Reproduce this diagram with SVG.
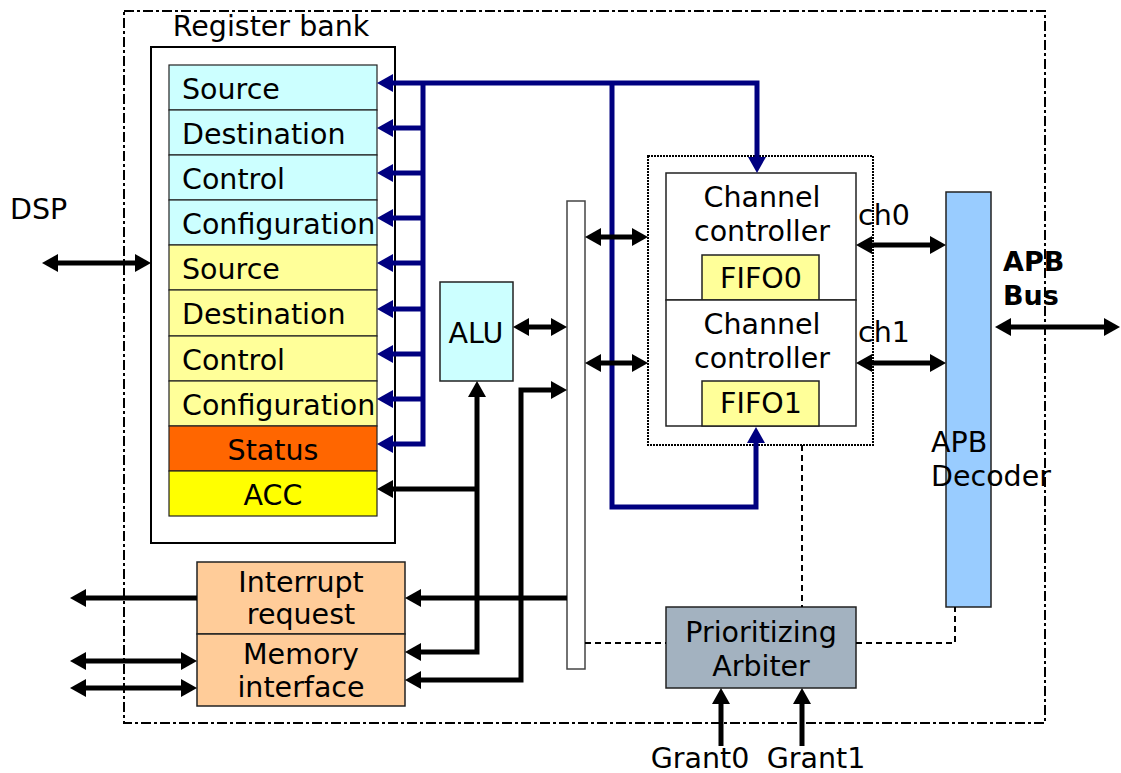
<svg xmlns="http://www.w3.org/2000/svg" width="1121" height="773" viewBox="0 0 1121 773">
  <style>
    text { font-family: "DejaVu Sans", Verdana, sans-serif; font-size: 28.5px; fill: #000; }
    .mid { text-anchor: middle; }
    .bold { font-weight: bold; font-size: 27px; }
    .cell { stroke: #222; stroke-width: 1.2; }
    .box { stroke: #222; stroke-width: 1.5; }
    .blk { fill: none; stroke: #000; stroke-width: 5; stroke-linejoin: miter; }
    .blue { fill: none; stroke: #000080; stroke-width: 5; stroke-linejoin: miter; }
    .dash { fill: none; stroke: #000; stroke-width: 2; stroke-dasharray: 6 4; }
  </style>
  <defs>
    <marker id="ah" markerUnits="userSpaceOnUse" markerWidth="16" markerHeight="18" refX="2" refY="9" orient="auto-start-reverse" viewBox="0 0 16 18">
      <path d="M0,0 L16,9 L0,18 z" fill="#000"/>
    </marker>
    <marker id="bh" markerUnits="userSpaceOnUse" markerWidth="16" markerHeight="18" refX="2" refY="9" orient="auto-start-reverse" viewBox="0 0 16 18">
      <path d="M0,0 L16,9 L0,18 z" fill="#000080"/>
    </marker>
  </defs>

  <!-- chip boundary -->
  <rect x="124" y="11" width="921" height="712" fill="none" stroke="#000" stroke-width="2" stroke-dasharray="10 3 3 3"/>

  <!-- register bank -->
  <g id="register-bank">
    <text x="271" y="36" class="mid">Register bank</text>
    <rect x="151" y="47" width="244" height="496" fill="#fff" stroke="#000" stroke-width="2"/>
    <g id="reg-src0"><rect x="169" y="65" width="208" height="45" fill="#CCFFFF" class="cell"/><text x="182" y="99">Source</text></g>
    <g id="reg-dst0"><rect x="169" y="110" width="208" height="45" fill="#CCFFFF" class="cell"/><text x="182" y="144">Destination</text></g>
    <g id="reg-ctl0"><rect x="169" y="155" width="208" height="45" fill="#CCFFFF" class="cell"/><text x="182" y="189">Control</text></g>
    <g id="reg-cfg0"><rect x="169" y="200" width="208" height="45" fill="#CCFFFF" class="cell"/><text x="182" y="234">Configuration</text></g>
    <g id="reg-src1"><rect x="169" y="245" width="208" height="45" fill="#FFFF99" class="cell"/><text x="182" y="279">Source</text></g>
    <g id="reg-dst1"><rect x="169" y="290" width="208" height="46" fill="#FFFF99" class="cell"/><text x="182" y="324">Destination</text></g>
    <g id="reg-ctl1"><rect x="169" y="336" width="208" height="45" fill="#FFFF99" class="cell"/><text x="182" y="370">Control</text></g>
    <g id="reg-cfg1"><rect x="169" y="381" width="208" height="45" fill="#FFFF99" class="cell"/><text x="182" y="415">Configuration</text></g>
    <g id="reg-status"><rect x="169" y="426" width="208" height="45" fill="#FF6600" class="cell"/><text x="273" y="460" class="mid">Status</text></g>
    <g id="reg-acc"><rect x="169" y="471" width="208" height="45" fill="#FFFF00" class="cell"/><text x="273" y="505" class="mid">ACC</text></g>
  </g>

  <g id="dsp"><text x="10" y="219">DSP</text></g>

  <g id="alu">
    <rect x="440" y="282" width="73" height="99" fill="#CCFFFF" class="box"/>
    <text x="476" y="343" class="mid">ALU</text>
  </g>

  <g id="internal-bus">
    <rect x="567" y="201" width="18" height="468" fill="#fff" stroke="#444" stroke-width="1.5"/>
  </g>

  <g id="channels">
    <rect x="648" y="156" width="225" height="289" fill="#fff" stroke="#000" stroke-width="2" stroke-dasharray="2 1"/>
    <g id="channel0">
      <rect x="666" y="173" width="190" height="127" fill="#fff" class="box"/>
      <text x="762" y="207" class="mid">Channel</text>
      <text x="762" y="241" class="mid">controller</text>
      <rect x="702" y="255" width="117" height="45" fill="#FFFF99" class="box"/>
      <text x="761" y="288" class="mid">FIFO0</text>
    </g>
    <g id="channel1">
      <rect x="666" y="300" width="190" height="126" fill="#fff" class="box"/>
      <text x="762" y="334" class="mid">Channel</text>
      <text x="762" y="368" class="mid">controller</text>
      <rect x="702" y="381" width="117" height="45" fill="#FFFF99" class="box"/>
      <text x="761" y="413" class="mid">FIFO1</text>
    </g>
  </g>

  <g id="apb-decoder">
    <rect x="946" y="192" width="45" height="415" fill="#99CCFF" class="box"/>
    <text x="931" y="452">APB</text>
    <text x="931" y="486">Decoder</text>
  </g>

  <g id="apb-bus">
    <text x="1003" y="271" class="bold">APB</text>
    <text x="1003" y="305" class="bold">Bus</text>
  </g>

  <g id="interrupt">
    <rect x="197" y="562" width="208" height="72" fill="#FFCC99" class="box"/>
    <text x="301" y="592" class="mid">Interrupt</text>
    <text x="301" y="624" class="mid">request</text>
  </g>
  <g id="memory">
    <rect x="197" y="634" width="208" height="72" fill="#FFCC99" class="box"/>
    <text x="301" y="664" class="mid">Memory</text>
    <text x="301" y="697" class="mid">interface</text>
  </g>

  <g id="arbiter">
    <rect x="666" y="607" width="190" height="81" fill="#A3B2C0" class="box"/>
    <text x="761" y="642" class="mid">Prioritizing</text>
    <text x="761" y="676" class="mid">Arbiter</text>
  </g>

  <g id="labels">
    <text x="858" y="225">ch0</text>
    <text x="858" y="342">ch1</text>
    <text x="700" y="768" class="mid">Grant0</text>
    <text x="816" y="768" class="mid">Grant1</text>
  </g>

  <g id="connectors">
    <!-- register write bus -->
    <path class="blue" d="M391,83 H757 V159" marker-start="url(#bh)" marker-end="url(#bh)"/>
    <path class="blue" d="M423,83 V444 H391" marker-end="url(#bh)"/>
    <path class="blue" d="M423,128 H391" marker-end="url(#bh)"/>
    <path class="blue" d="M423,173 H391" marker-end="url(#bh)"/>
    <path class="blue" d="M423,218 H391" marker-end="url(#bh)"/>
    <path class="blue" d="M423,263 H391" marker-end="url(#bh)"/>
    <path class="blue" d="M423,309 H391" marker-end="url(#bh)"/>
    <path class="blue" d="M423,354 H391" marker-end="url(#bh)"/>
    <path class="blue" d="M423,399 H391" marker-end="url(#bh)"/>
    <path class="blue" d="M612,83 V507 H756 V441" marker-end="url(#bh)"/>

    <!-- data paths -->
    <path class="blk" d="M56,263 H137" marker-start="url(#ah)" marker-end="url(#ah)"/>
    <path class="blk" d="M527,327 H553" marker-start="url(#ah)" marker-end="url(#ah)"/>
    <path class="blk" d="M599,237 H634" marker-start="url(#ah)" marker-end="url(#ah)"/>
    <path class="blk" d="M599,363 H634" marker-start="url(#ah)" marker-end="url(#ah)"/>
    <path class="blk" d="M870,245 H932" marker-start="url(#ah)" marker-end="url(#ah)"/>
    <path class="blk" d="M870,363 H932" marker-start="url(#ah)" marker-end="url(#ah)"/>
    <path class="blk" d="M1009,327 H1106" marker-start="url(#ah)" marker-end="url(#ah)"/>
    <path class="blk" d="M477,489 H391" marker-end="url(#ah)"/>
    <path class="blk" d="M477,395 V652 H419" marker-start="url(#ah)" marker-end="url(#ah)"/>
    <path class="blk" d="M553,390 H521 V680 H419" marker-start="url(#ah)" marker-end="url(#ah)"/>
    <path class="blk" d="M567,598 H419" marker-end="url(#ah)"/>
    <path class="blk" d="M197,598 H84" marker-end="url(#ah)"/>
    <path class="blk" d="M84,661 H183" marker-start="url(#ah)" marker-end="url(#ah)"/>
    <path class="blk" d="M84,688 H183" marker-start="url(#ah)" marker-end="url(#ah)"/>
    <path class="blk" d="M721,746 V702" marker-end="url(#ah)"/>
    <path class="blk" d="M802,746 V702" marker-end="url(#ah)"/>

    <!-- arbitration signals -->
    <path class="dash" d="M585,643 H666"/>
    <path class="dash" d="M856,643 H955 V607"/>
    <path class="dash" d="M802,445 V607"/>
  </g>
</svg>
